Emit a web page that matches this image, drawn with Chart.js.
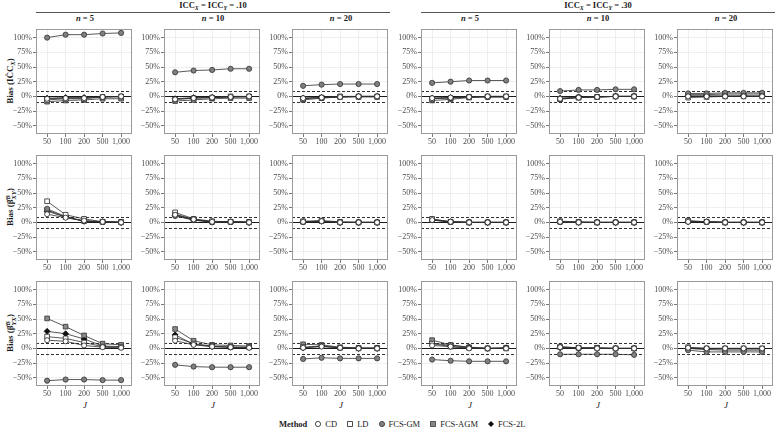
<!DOCTYPE html>
<html>
<head>
<meta charset="utf-8">
<script src="https://cdn.jsdelivr.net/npm/chart.js@4/dist/chart.umd.min.js"></script>
<style>
  html,body{margin:0;padding:0;background:#fff;}
  body{width:776px;height:428px;position:relative;overflow:hidden;font-family:"Liberation Serif",serif;color:#1a1a1a;}
  .abs{position:absolute;}
  .hdr{position:absolute;top:0;height:12px;line-height:10px;font-weight:bold;font-size:8.5px;text-align:center;border-bottom:1px solid #555;color:#1a1a1a;}
  .strip{position:absolute;top:12px;height:13px;line-height:13px;font-weight:bold;font-size:8.5px;text-align:center;color:#1a1a1a;}
  .sb{font-size:70%;font-style:italic;position:relative;top:2px;}
  .ytitle{position:absolute;height:16px;line-height:16px;font-weight:bold;font-size:9px;text-align:center;transform:rotate(-90deg);white-space:nowrap;color:#1a1a1a;}
  .ss{display:inline-block;vertical-align:middle;line-height:6px;font-size:6.5px;text-align:left;font-style:italic;}
  .jt{position:absolute;top:399px;height:12px;line-height:12px;font-style:italic;font-size:9px;text-align:center;color:#1a1a1a;}
  .legend{position:absolute;top:418px;left:279px;height:12px;display:flex;align-items:center;font-size:8.5px;white-space:nowrap;color:#1a1a1a;}
  .legend b{margin-right:7px;}
  .legend .it{display:flex;align-items:center;margin-right:9px;}
  .legend svg{margin-right:3px;}
</style>
</head>
<body>
<script>
// ---------------- data ----------------
const jLabels = ["50", "100", "200", "500", "1,000"];
const methodNames = ["CD", "LD", "FCS-GM", "FCS-AGM", "FCS-2L"];
const iccGroups = [".10", ".30"];
const nLabels = ["5", "10", "20", "5", "10", "20"];
const yTickValues = [-50, -25, 0, 25, 50, 75, 100];
const yTickLabels = ["\u221250%", "\u221225%", "0%", "25%", "50%", "75%", "100%"];
const refSolid = [0];
const refDashed = [-10, 10];

// Each array: 6 panels (ICC .10: n=5,10,20; ICC .30: n=5,10,20) x 5 values of J
// Row 1: Bias of ICC_X
const iccCD  = [[-4,-3,-3,-1,0],[-5,-3,-2,-1,0],[-3,-2,-1,0,0],[-3,-2,-1,0,0],[-4,-2,-1,0,0],[0,0,0,0,0]];
const iccLD  = [[-6,-4,-4,-1,0],[-5,-3,-2,0,0],[-4,-2,0,0,0],[-4,-3,-1,0,0],[-4,-2,-1,0,0],[-2,-1,0,0,0]];
const iccGM  = [[100,105,105,107,108],[41,44,45,47,47],[18,20,21,21,21],[23,25,27,27,27],[9,11,11,12,12],[5,5,6,6,6]];
const iccAGM = [[-9,-7,-6,-4,-4],[-8,-6,-4,-3,-3],[-6,-3,-1,-1,-1],[-7,-5,-2,-1,-1],[-5,-2,-1,0,0],[3,3,4,4,4]];
const icc2L  = [[-3,-2,-2,-1,-1],[-4,-2,-2,-1,-1],[-3,-2,-1,0,0],[-3,-2,-1,-1,-1],[-3,-1,-1,0,0],[1,1,1,1,1]];
// Row 2: Bias of beta_XY
const bxyCD  = [[14,8,3,1,0],[13,5,1,1,0],[1,2,0,0,0],[4,1,0,0,0],[1,0,0,0,0],[1,1,0,0,0]];
const bxyLD  = [[36,13,6,1,1],[17,6,2,1,1],[2,3,1,0,0],[6,1,0,0,0],[2,1,0,0,0],[3,1,0,0,0]];
const bxyGM  = [[23,10,2,1,0],[11,4,0,1,0],[1,2,0,0,0],[4,1,0,0,0],[1,0,0,0,0],[2,1,0,0,0]];
const bxyAGM = [[21,9,2,1,0],[14,5,1,1,0],[1,2,0,0,0],[5,1,0,0,0],[1,0,0,0,0],[2,1,0,0,0]];
const bxy2L  = [[19,9,2,1,0],[12,4,1,1,0],[1,2,0,0,0],[4,1,0,0,0],[1,0,0,0,0],[1,1,0,0,0]];
// Row 3: Bias of beta_YX
const byxCD  = [[14,12,5,2,1],[13,6,3,2,1],[1,3,1,0,0],[5,3,0,0,0],[2,1,0,0,0],[1,0,0,0,0]];
const byxLD  = [[20,17,10,3,2],[19,8,4,2,2],[2,4,1,0,0],[8,3,1,0,0],[3,1,1,0,0],[2,0,0,0,0]];
const byxGM  = [[-55,-53,-53,-54,-54],[-28,-31,-32,-32,-32],[-18,-16,-17,-17,-17],[-19,-21,-22,-22,-22],[-10,-10,-10,-10,-11],[-3,-6,-6,-6,-6]];
const byxAGM = [[51,37,22,8,6],[33,13,6,5,4],[7,6,2,1,1],[14,6,2,0,1],[2,1,1,0,0],[0,-2,-3,-3,-3]];
const byx2L  = [[29,25,16,4,3],[23,7,3,2,2],[1,4,1,0,0],[9,5,2,0,1],[1,0,0,0,0],[0,-1,-1,-1,-1]];

const rowsData = [
  [iccCD, iccLD, iccGM, iccAGM, icc2L],
  [bxyCD, bxyLD, bxyGM, bxyAGM, bxy2L],
  [byxCD, byxLD, byxGM, byxAGM, byx2L]
];

// ---------------- layout / style ----------------
const panelLeft = [36, 164, 292, 421, 549, 677];
const rowTop = [27, 153, 279];
const PW = 98, PH = 107, LY = 30, LX = 16, PAD = 3;
const FONT = '"Liberation Serif", serif';

const methodStyle = [
  {pointStyle:'circle',  radius:2.5, fill:'#ffffff', stroke:'#222'},
  {pointStyle:'rect',    radius:3.3, fill:'#ffffff', stroke:'#222'},
  {pointStyle:'circle',  radius:2.6, fill:'#808080', stroke:'#333'},
  {pointStyle:'rect',    radius:3.3, fill:'#8a8a8a', stroke:'#333'},
  {pointStyle:'rectRot', radius:3.0, fill:'#111111', stroke:'#111'}
];

const panelDeco = {
  id: 'panelDeco',
  beforeDatasetsDraw(chart) {
    const {ctx, chartArea: a, scales: {y}} = chart;
    ctx.save();
    ctx.beginPath();
    ctx.rect(a.left, a.top, a.right - a.left, a.bottom - a.top);
    ctx.clip();
    ctx.strokeStyle = '#1a1a1a';
    refDashed.forEach(v => {
      const py = Math.round(y.getPixelForValue(v)) + 0.5;
      ctx.lineWidth = 0.9;
      ctx.setLineDash([3, 2]);
      ctx.beginPath(); ctx.moveTo(a.left, py); ctx.lineTo(a.right, py); ctx.stroke();
    });
    refSolid.forEach(v => {
      const py = Math.round(y.getPixelForValue(v)) + 0.5;
      ctx.lineWidth = 1;
      ctx.setLineDash([]);
      ctx.beginPath(); ctx.moveTo(a.left, py); ctx.lineTo(a.right, py); ctx.stroke();
    });
    ctx.restore();
  },
  afterDraw(chart) {
    const {ctx, chartArea: a} = chart;
    ctx.save();
    ctx.strokeStyle = '#9a9a9a';
    ctx.lineWidth = 1;
    ctx.strokeRect(Math.round(a.left) + 0.5, Math.round(a.top) + 0.5,
                   Math.round(a.right - a.left) - 1, Math.round(a.bottom - a.top) - 1);
    ctx.restore();
  }
};

function addDiv(cls, html, style) {
  const d = document.createElement('div');
  d.className = cls;
  d.innerHTML = html;
  Object.assign(d.style, style);
  document.body.appendChild(d);
  return d;
}

// headers
iccGroups.forEach((g, k) => {
  const l = panelLeft[k * 3], r = panelLeft[k * 3 + 2] + PW;
  addDiv('hdr', 'ICC<span class="sb">X</span> = ICC<span class="sb">Y</span> = ' + g,
         {left: l + 'px', width: (r - l) + 'px'});
});
nLabels.forEach((n, c) => {
  addDiv('strip', '<i>n</i> = ' + n, {left: panelLeft[c] + 'px', width: PW + 'px'});
});

// y titles
const yTitles = [
  'Bias (IC\u0302C<span class="sb">X</span>)',
  'Bias (\u03B2\u0302<span class="ss">B<br>XY</span>)',
  'Bias (\u03B2\u0302<span class="ss">B<br>YX</span>)'
];
yTitles.forEach((t, r) => {
  const cy = rowTop[r] + PH / 2;
  addDiv('ytitle', t, {left: (9 - PH / 2) + 'px', top: (cy - 8) + 'px', width: PH + 'px'});
});

// J titles
panelLeft.forEach(l => addDiv('jt', 'J', {left: l + 'px', width: PW + 'px'}));

// legend
function legendSymbol(s) {
  let shape;
  if (s.pointStyle === 'circle') shape = '<circle cx="4" cy="4" r="2.6" fill="' + s.fill + '" stroke="' + s.stroke + '" stroke-width="0.8"/>';
  else if (s.pointStyle === 'rect') shape = '<rect x="1.6" y="1.6" width="4.8" height="4.8" fill="' + s.fill + '" stroke="' + s.stroke + '" stroke-width="0.8"/>';
  else shape = '<polygon points="4,1 7,4 4,7 1,4" fill="' + s.fill + '"/>';
  return '<svg width="8" height="8">' + shape + '</svg>';
}
let lg = '<b>Method</b>';
methodNames.forEach((m, i) => {
  lg += '<span class="it">' + legendSymbol(methodStyle[i]) + '<span>' + m + '</span></span>';
});
addDiv('legend', lg, {});

// charts
rowsData.forEach((rowSets, r) => {
  panelLeft.forEach((pl, c) => {
    const wrap = document.createElement('div');
    wrap.className = 'abs';
    wrap.style.left = (pl - LY) + 'px';
    wrap.style.top = (rowTop[r] - PAD) + 'px';
    const cw = LY + PW + PAD, ch = PAD + PH + LX;
    wrap.style.width = cw + 'px';
    wrap.style.height = ch + 'px';
    const cv = document.createElement('canvas');
    cv.width = cw; cv.height = ch;
    cv.style.width = cw + 'px'; cv.style.height = ch + 'px';
    wrap.appendChild(cv);
    document.body.appendChild(wrap);

    const datasets = rowSets.map((arr, m) => {
      const s = methodStyle[m];
      return {
        label: methodNames[m],
        data: arr[c].map((v, i) => ({x: i, y: v})),
        borderColor: '#2e2e2e',
        borderWidth: 0.8,
        pointStyle: s.pointStyle,
        pointRadius: s.radius,
        pointBackgroundColor: s.fill,
        pointBorderColor: s.stroke,
        pointBorderWidth: 0.8,
        tension: 0,
        fill: false
      };
    });

    new Chart(cv, {
      type: 'line',
      data: {datasets},
      plugins: [panelDeco],
      options: {
        responsive: false,
        animation: false,
        devicePixelRatio: 1,
        events: [],
        layout: {padding: {left: 0, top: PAD, right: PAD, bottom: 0}},
        plugins: {legend: {display: false}, tooltip: {enabled: false}},
        scales: {
          x: {
            type: 'linear', min: -0.6, max: 4.6,
            afterBuildTicks: s => { s.ticks = jLabels.map((_, i) => ({value: i})); },
            afterFit: s => { s.height = LX; s.paddingLeft = 0; s.paddingRight = 0; },
            ticks: {
              callback: v => jLabels[v], autoSkip: false, maxRotation: 0,
              font: {family: FONT, size: 8}, color: '#4d4d4d', padding: 0
            },
            grid: {color: '#ebebeb', lineWidth: 0.8, tickColor: '#555', tickLength: 3},
            border: {display: false}
          },
          y: {
            type: 'linear', min: -64, max: 115,
            afterBuildTicks: s => { s.ticks = yTickValues.map(v => ({value: v})); },
            afterFit: s => { s.width = LY; s.paddingTop = 0; s.paddingBottom = 0; },
            ticks: {
              callback: v => yTickLabels[yTickValues.indexOf(v)], autoSkip: false,
              font: {family: FONT, size: 8}, color: '#4d4d4d', padding: 1
            },
            grid: {color: '#ebebeb', lineWidth: 0.8, tickColor: '#555', tickLength: 3},
            border: {display: false}
          }
        }
      }
    });
  });
});
</script>
</body>
</html>
